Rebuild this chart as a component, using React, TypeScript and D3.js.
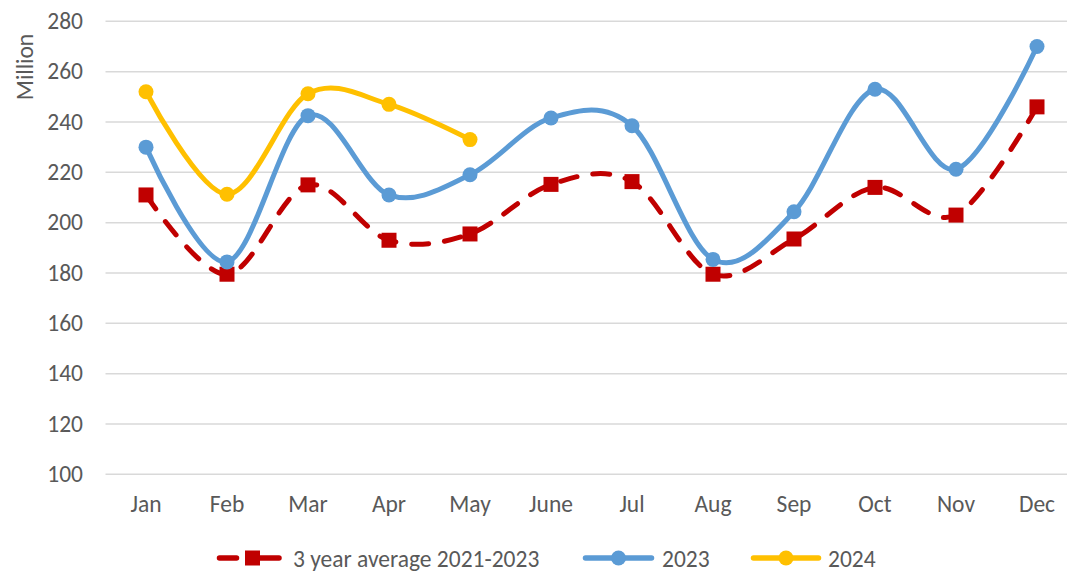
import React, { useRef, useEffect } from 'react';
import * as d3 from 'd3';

const months = ['Jan', 'Feb', 'Mar', 'Apr', 'May', 'June', 'Jul', 'Aug', 'Sep', 'Oct', 'Nov', 'Dec'];
const avg3yr = [211, 179.5, 215, 193, 195.5, 215.2, 216.3, 179.5, 193.5, 214, 203, 246];
const y2023 = [230, 184.4, 242.5, 211, 219, 241.6, 238.5, 185.4, 204.3, 253, 221.2, 270];
const y2024 = [252, 211.3, 251.2, 247, 233];
const yTicks = [100, 120, 140, 160, 180, 200, 220, 240, 260, 280];
const legendLabels = ['3 year average 2021-2023', '2023', '2024'];

const RED = '#C00000';
const BLUE = '#5B9BD5';
const GOLD = '#FFC000';
const FONT = 'Carlito, Calibri, Lato, sans-serif';
const FS = 23.5;

const App = () => {
  const ref = useRef<SVGSVGElement>(null);

  useEffect(() => {
    const svg = d3.select(ref.current);
    svg.selectAll('*').remove();

    const x = d3.scaleBand().domain(months).range([105.5, 1077.5]).padding(0);
    const cx = (m: string) => (x(m) as number) + x.bandwidth() / 2;
    const y = d3.scaleLinear().domain([100, 280]).range([474.3, 21.3]);

    // gridlines
    svg
      .append('g')
      .selectAll('line')
      .data(yTicks)
      .enter()
      .append('line')
      .attr('x1', 105.5)
      .attr('x2', 1077.5)
      .attr('y1', (d) => y(d))
      .attr('y2', (d) => y(d))
      .attr('stroke', '#D9D9D9')
      .attr('stroke-width', 1.5);

    // y tick labels
    svg
      .append('g')
      .selectAll('text')
      .data(yTicks)
      .enter()
      .append('text')
      .attr('x', 83)
      .attr('y', (d) => y(d))
      .attr('dy', '0.33em')
      .attr('text-anchor', 'end')
      .attr('font-family', FONT)
      .attr('font-size', FS)
      .attr('fill', '#595959')
      .text((d) => d);

    svg
      .append('text')
      .attr('transform', `translate(33,67) rotate(-90)`)
      .attr('text-anchor', 'middle')
      .attr('font-family', FONT)
      .attr('font-size', FS)
      .attr('fill', '#595959')
      .text('Million');

    // x labels
    svg
      .append('g')
      .selectAll('text')
      .data(months)
      .enter()
      .append('text')
      .attr('x', (d) => cx(d))
      .attr('y', 512)
      .attr('text-anchor', 'middle')
      .attr('font-family', FONT)
      .attr('font-size', FS)
      .attr('fill', '#595959')
      .text((d) => d);

    const line = d3
      .line<number>()
      .x((d, i) => cx(months[i]))
      .y((d) => y(d))
      .curve(d3.curveCatmullRom.alpha(0));

    // 3 year average (dashed)
    svg
      .append('path')
      .attr('d', line(avg3yr))
      .attr('fill', 'none')
      .attr('stroke', RED)
      .attr('stroke-width', 5)
      .attr('stroke-linecap', 'round')
      .attr('stroke-dasharray', '17 16');

    svg
      .append('g')
      .selectAll('rect')
      .data(avg3yr)
      .enter()
      .append('rect')
      .attr('x', (d, i) => cx(months[i]) - 7.5)
      .attr('y', (d) => y(d) - 7.5)
      .attr('width', 15)
      .attr('height', 15)
      .attr('fill', RED);

    const drawSeries = (vals: number[], color: string) => {
      svg
        .append('path')
        .attr('d', line(vals))
        .attr('fill', 'none')
        .attr('stroke', color)
        .attr('stroke-width', 5)
        .attr('stroke-linecap', 'round');
      svg
        .append('g')
        .selectAll('circle')
        .data(vals)
        .enter()
        .append('circle')
        .attr('cx', (d, i) => cx(months[i]))
        .attr('cy', (d) => y(d))
        .attr('r', 7.5)
        .attr('fill', color);
    };
    drawSeries(y2023, BLUE);
    drawSeries(y2024, GOLD);

    // legend
    const legendY = 558;
    const lg = svg.append('g');
    const seg = (x1: number, x2: number, color: string) =>
      lg.append('line')
        .attr('x1', x1)
        .attr('x2', x2)
        .attr('y1', legendY)
        .attr('y2', legendY)
        .attr('stroke', color)
        .attr('stroke-width', 5.5)
        .attr('stroke-linecap', 'round');

    seg(219.5, 236.5, RED);
    seg(260, 279, RED);
    lg.append('rect')
      .attr('x', 252.5 - 7.5)
      .attr('y', legendY - 7.5)
      .attr('width', 15)
      .attr('height', 15)
      .attr('fill', RED);

    seg(585.5, 651.5, BLUE);
    lg.append('circle').attr('cx', 618.5).attr('cy', legendY).attr('r', 7.5).attr('fill', BLUE);

    seg(753.5, 818.5, GOLD);
    lg.append('circle').attr('cx', 786).attr('cy', legendY).attr('r', 7.5).attr('fill', GOLD);

    const textX = [293, 662, 828];
    legendLabels.forEach((t, i) => {
      lg.append('text')
        .attr('x', textX[i])
        .attr('y', 566.5)
        .attr('font-family', FONT)
        .attr('font-size', FS)
        .attr('fill', '#595959')
        .text(t);
    });
  }, []);

  return (
    <svg
      ref={ref}
      width={1067}
      height={571}
      style={{ position: 'absolute', left: 0, top: 0, background: '#fff' }}
    />
  );
};

export default App;
